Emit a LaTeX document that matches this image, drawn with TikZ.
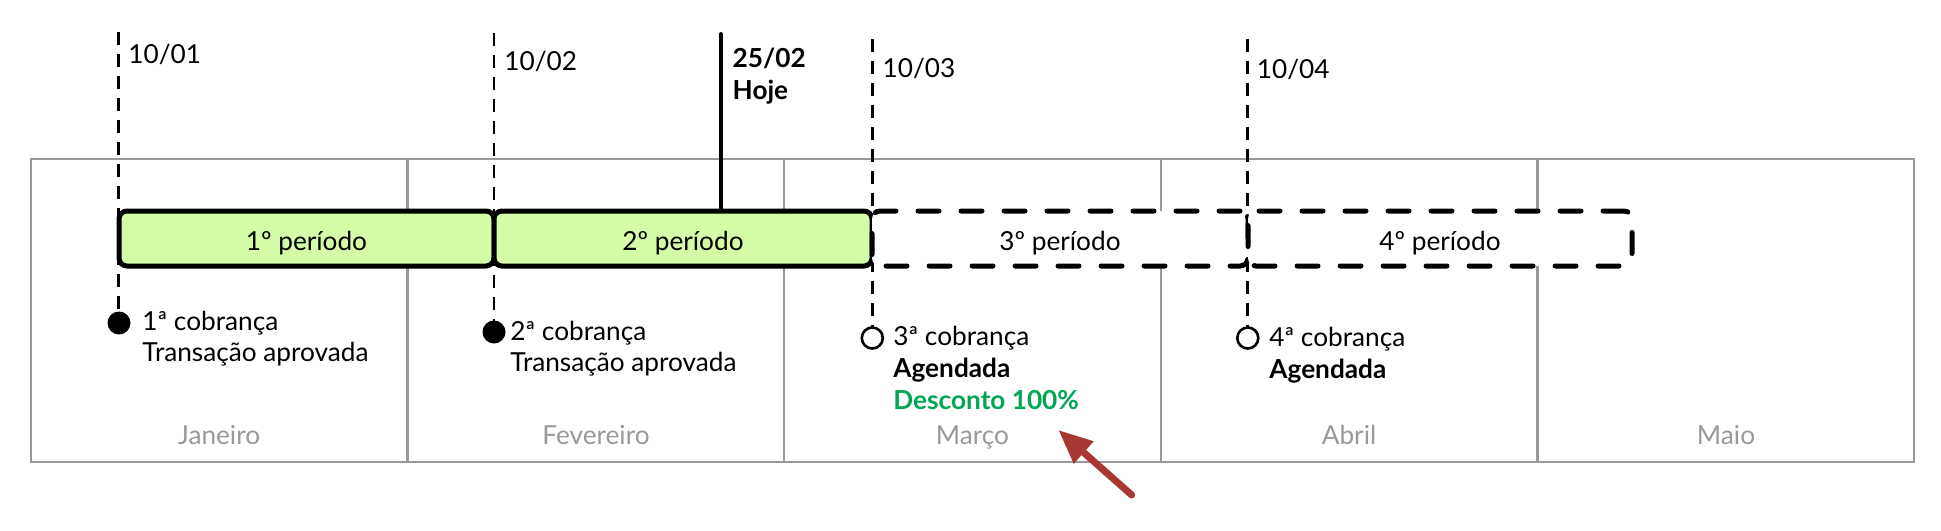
\documentclass[tikz,border=0pt]{standalone}
\usepackage{fontspec}
\setmainfont{Lato}
\usetikzlibrary{arrows.meta,positioning}
\definecolor{periodgreen}{RGB}{212,252,166}
\definecolor{discountgreen}{RGB}{0,166,80}
\definecolor{arrowred}{RGB}{170,56,50}
\definecolor{framegray}{RGB}{153,153,153}
\tikzset{
	every node/.style={font=\fontsize{13.1pt}{15.8pt}\selectfont},
	monthcell/.style={draw=framegray,line width=1.1pt},
	monthname/.style={text=framegray,anchor=base,inner sep=0pt},
	datelabel/.style={anchor=base west,inner sep=0pt},
	dateline/.style={line width=1.4pt,dash pattern=on 6.5pt off 4.5pt},
	todayline/.style={line width=2pt,line cap=round},
	periodbox/.style={draw,rectangle,rounded corners=4pt,line width=2.5pt,minimum height=27.5pt,outer sep=0pt,inner sep=0pt,text height=11.5pt,text depth=0pt},
	paidbox/.style={periodbox,fill=periodgreen},
	plannedbox/.style={periodbox,fill=white,dash pattern=on 10.5pt off 11pt,line cap=round},
	paidcharge/.style={circle,fill=black,minimum size=11.5pt,inner sep=0pt,outer sep=0pt},
	plannedcharge/.style={circle,draw,line width=1.3pt,fill=white,minimum size=10.5pt,inner sep=0pt,outer sep=0pt},
	chargetext/.style={anchor=base west,align=left,inner sep=0pt},
	pointer/.style={draw=arrowred,line width=3.5pt,line cap=round,-{Triangle[length=17pt,width=14pt]}}
}
\begin{document}
\begin{tikzpicture}[x=0.5pt,y=-0.5pt]
			\useasboundingbox (0,0) rectangle (1941,530);
			% months
			\draw[monthcell] (30.7,159.3) rectangle (1914,461.7);
			\draw[monthcell] (407.4,159.3) -- (407.4,461.7);
			\draw[monthcell] (784.1,159.3) -- (784.1,461.7);
			\draw[monthcell] (1160.8,159.3) -- (1160.8,461.7);
			\draw[monthcell] (1537.5,159.3) -- (1537.5,461.7);
			\node[monthname] (jan) at (219,444) {Janeiro};
			\node[monthname] (fev) at (596,444) {Fevereiro};
			\node[monthname] (mar) at (972.5,444) {Março};
			\node[monthname] (abr) at (1349,444) {Abril};
			\node[monthname] (mai) at (1726,444) {Maio};
			% charges (base = last line)
			\node[paidcharge] (c1) at (119,323) {};
			\node[paidcharge] (c2) at (494,332) {};
			\node[plannedcharge] (c3) at (872.3,338) {};
			\node[plannedcharge] (c4) at (1247.8,338) {};
			\node[chargetext] (t1) at (142,361.7) {1ª cobrança\\Transação aprovada};
			\node[chargetext] (t2) at (510,371.7) {2ª cobrança\\Transação aprovada};
			\node[chargetext] (t3) at (893,409) {3ª cobrança\\\textbf{Agendada}\\\textcolor{discountgreen}{\textbf{Desconto 100\%}}};
			\node[chargetext] (t4) at (1269,378.3) {4ª cobrança\\\textbf{Agendada}};
			% dates
			\coordinate (d1) at (118.3,32.3);
			\coordinate (d2) at (494,33);
			\coordinate (d3) at (872.3,39.3);
			\coordinate (d4) at (1247.8,39.3);
			\coordinate (hoje) at (721,34);
			\node[datelabel] (l1) at (128,63.3) {10/01};
			\node[datelabel] (l2) at (504,70.7) {10/02};
			\node[datelabel] (l3) at (882.3,77.3) {10/03};
			\node[datelabel] (l4) at (1256.5,78) {10/04};
			\node[datelabel,align=left] (lh) at (732.3,99) {\textbf{25/02}\\\textbf{Hoje}};
			\draw[dateline] (d1) -- (d1 |- c1.north);
			\draw[dateline] (d2) -- (d2 |- c2.north);
			\draw[dateline] (d3) -- (d3 |- c3.north);
			\draw[dateline] (d4) -- (d4 |- c4.north);
			% periods
			\node[paidbox,minimum width=187.5pt] (p1) at (306.5,238.5) {1º período};
			\node[paidbox,minimum width=189pt] (p2) at (683,238.5) {2º período};
			\node[plannedbox,minimum width=188pt] (p3) at (1060,238.5) {3º período};
			\node[plannedbox,minimum width=192pt] (p4) at (1440,238.5) {4º período};
			\draw[todayline] (hoje) -- (hoje |- p2.north);
			% discount pointer
			\coordinate (tail) at (1131.7,495);
			\coordinate (tip) at (1058.3,430);
			\draw[pointer] (tail) -- (tip);
		\end{tikzpicture}
\end{document}
